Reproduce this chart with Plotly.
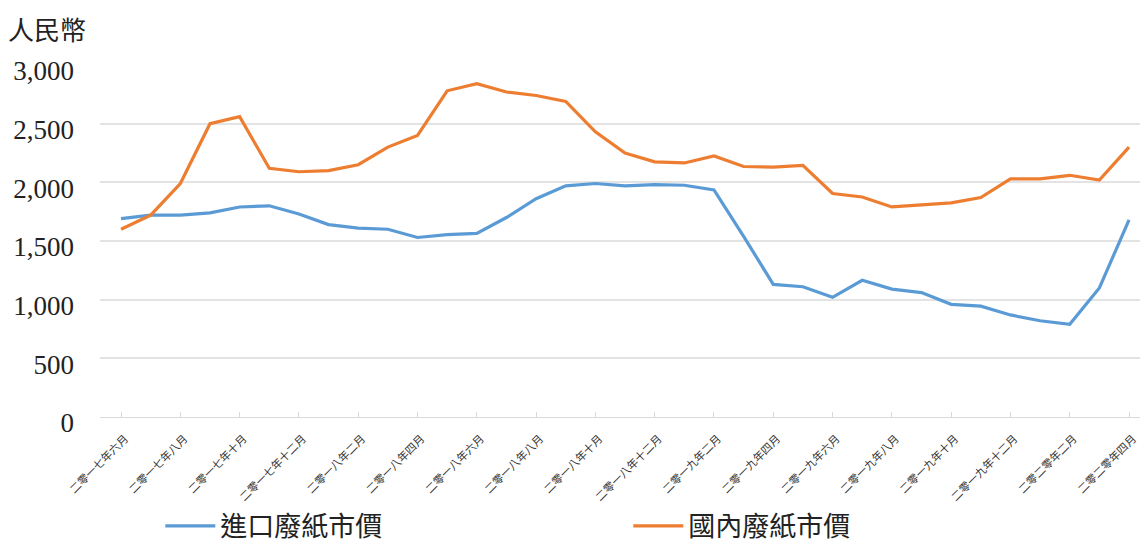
import plotly.graph_objects as go

months = [
    "二零一七年六月", "二零一七年七月", "二零一七年八月", "二零一七年九月", "二零一七年十月",
    "二零一七年十一月", "二零一七年十二月",
    "二零一八年一月", "二零一八年二月", "二零一八年三月", "二零一八年四月", "二零一八年五月",
    "二零一八年六月", "二零一八年七月", "二零一八年八月", "二零一八年九月", "二零一八年十月",
    "二零一八年十一月", "二零一八年十二月",
    "二零一九年一月", "二零一九年二月", "二零一九年三月", "二零一九年四月", "二零一九年五月",
    "二零一九年六月", "二零一九年七月", "二零一九年八月", "二零一九年九月", "二零一九年十月",
    "二零一九年十一月", "二零一九年十二月",
    "二零二零年一月", "二零二零年二月", "二零二零年三月", "二零二零年四月",
]

imported = [
    1690, 1720, 1720, 1740, 1790, 1800, 1730, 1640, 1610, 1600, 1530, 1555,
    1565, 1700, 1860, 1970, 1990, 1970, 1980, 1975, 1935, 1540, 1130, 1110,
    1020, 1165, 1090, 1060, 960, 945, 870, 820, 790, 1100, 1680,
]

domestic = [
    1600, 1720, 1990, 2500, 2560, 2120, 2090, 2100, 2150, 2300, 2400, 2780,
    2840, 2770, 2740, 2690, 2430, 2250, 2175, 2165, 2225, 2135, 2130, 2145,
    1905, 1875, 1790, 1805, 1825, 1870, 2030, 2030, 2060, 2020, 2300,
]

tick_labels = months[::2]
y_ticks = [0, 500, 1000, 1500, 2000, 2500, 3000]

series_names = ["進口廢紙市價", "國內廢紙市價"]
colors = ["#5B9BD5", "#ED7D31"]

fig = go.Figure()
for name, vals, col in zip(series_names, [imported, domestic], colors):
    fig.add_trace(go.Scatter(
        x=months, y=vals, mode="lines", name=name,
        line=dict(color=col, width=3.2),
    ))

serif = "Liberation Serif"
cjk = "Noto Sans CJK TC, Noto Sans CJK SC, sans-serif"

fig.update_layout(
    width=1142, height=546,
    margin=dict(l=100, r=2, t=65, b=129, autoexpand=False),
    paper_bgcolor="white", plot_bgcolor="white",
    showlegend=True,
    legend=dict(
        orientation="h", x=0.058, xanchor="left", y=-0.241, yanchor="top",
        entrywidth=403, entrywidthmode="pixels",
        font=dict(family=cjk, size=27, color="#222"),
        itemwidth=50, bgcolor="rgba(0,0,0,0)",
    ),
    annotations=[dict(
        text="人民幣", xref="paper", yref="paper", x=-0.09, y=1.105,
        xanchor="left", yanchor="middle", showarrow=False,
        font=dict(family=cjk, size=26, color="#222"),
    )],
)

fig.update_xaxes(
    type="category", categoryorder="array", categoryarray=months,
    range=[-0.71, 34.37], automargin=False,
    tickmode="array", tickvals=tick_labels, ticktext=tick_labels,
    tickangle=-45, tickfont=dict(family=cjk, size=11, color="#333"),
    showgrid=False, showline=True, linecolor="#d9d9d9", linewidth=1,
    ticks="inside", ticklen=5, tickcolor="#d9d9d9",
    ticklabelshift=4, ticklabelstandoff=10,
)

fig.update_yaxes(
    range=[0, 3000], tickmode="array", tickvals=y_ticks, automargin=False,
    tickformat=",d",
    tickfont=dict(family=serif, size=27, color="#222"),
    showgrid=True, gridcolor="#e3e3e3", gridwidth=1.5,
    zeroline=False, showline=False, ticks="", ticklabelstandoff=25,
    ticklabelshift=6,
)

fig.write_html(
    "out.html",
    config={"displayModeBar": False},
    post_script="document.body.style.margin='0';",
)
